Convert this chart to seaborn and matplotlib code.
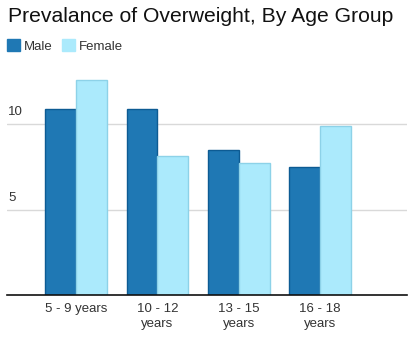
import matplotlib
matplotlib.use("Agg")
import matplotlib.pyplot as plt
import seaborn as sns
import pandas as pd
from matplotlib.patches import Patch

categories = ["5 - 9 years", "10 - 12 years", "13 - 15 years", "16 - 18 years"]
tick_labels = ["5 - 9 years", "10 - 12\nyears", "13 - 15\nyears", "16 - 18\nyears"]
male = [10.9, 10.9, 8.5, 7.5]
female = [12.6, 8.1, 7.7, 9.9]
series = ["Male", "Female"]
yticks = [5, 10]

df = pd.DataFrame({
    "age": categories * 2,
    "sex": ["Male"] * len(categories) + ["Female"] * len(categories),
    "value": male + female,
})

sns.set_theme(style="white")
plt.rcParams["font.family"] = ["Liberation Sans", "DejaVu Sans"]

fill = {"Male": "#1f78b4", "Female": "#abeafc"}
edge = {"Male": "#0d5b93", "Female": "#8dd2e8"}

fig = plt.figure(figsize=(4.14, 3.44), dpi=100)
ax = fig.add_axes([7 / 414, 1 - 295 / 344, 400 / 414, (295 - 72.7) / 344])

sns.barplot(data=df, x="age", y="value", hue="sex", order=categories,
            hue_order=series, palette=fill, width=0.76, ax=ax,
            legend=False, saturation=1)
for cont, s in zip(ax.containers, series):
    for p in cont:
        p.set_edgecolor(edge[s])
        p.set_linewidth(1.0)

ax.set_xlim(-0.85, 4.07)
ax.set_ylim(0, 13)
ax.set_xlabel("")
ax.set_ylabel("")
ax.set_yticks(yticks)
ax.set_yticklabels([])
ax.tick_params(axis="y", length=0)
ax.yaxis.grid(True, color="#d9d9d9", linewidth=1)
ax.set_axisbelow(True)
for v in yticks:
    ax.text(0.003, v + 0.35, str(v), transform=ax.get_yaxis_transform(),
            ha="left", va="bottom", fontsize=9.5, color="#333333")

ax.set_xticks(range(len(categories)))
ax.set_xticklabels(tick_labels, fontsize=9.5, color="#333333", linespacing=1.25)
ax.tick_params(axis="x", length=0, pad=6)

for side in ["left", "right", "top"]:
    ax.spines[side].set_visible(False)
ax.spines["bottom"].set_color("#111111")
ax.spines["bottom"].set_linewidth(1.2)

fig.text(8 / 414, 1 - 16 / 344, "Prevalance of Overweight, By Age Group",
         fontsize=15.2, color="#111111", ha="left", va="center")

handles = [Patch(facecolor=fill[s], edgecolor=fill[s]) for s in series]
fig.legend(handles, series, loc="center left",
           bbox_to_anchor=(7 / 414, 1 - 46 / 344), ncol=2, frameon=False,
           fontsize=9.5, handlelength=1.0, handleheight=1.0,
           handletextpad=0.3, columnspacing=0.7, borderaxespad=0,
           borderpad=0.0, labelcolor="#333333")

fig.savefig("out.png", dpi=100)
